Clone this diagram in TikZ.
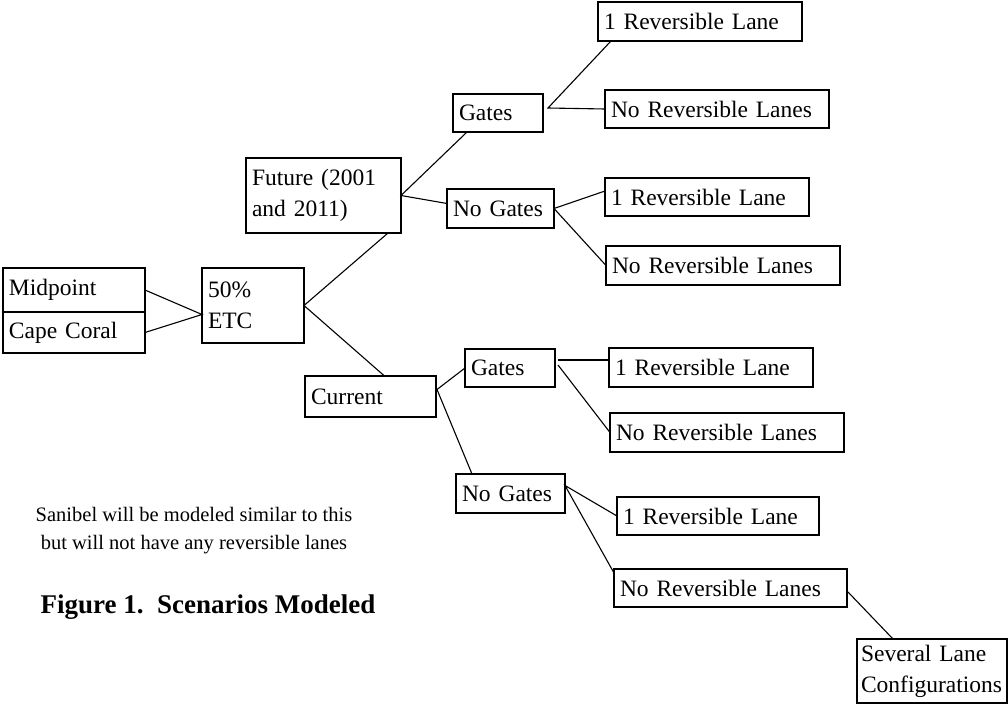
\documentclass[tikz,border=0pt]{standalone}
\usepackage{fontspec}
\setmainfont{Liberation Serif}
\usetikzlibrary{calc,positioning}
\newcommand{\boxfont}{\fontsize{23.5}{31}\selectfont}
\tikzstyle{box}=[draw, anchor=north west, align=left, inner xsep=6pt, inner ysep=0pt, outer sep=0pt, font=\boxfont]
\tikzstyle{gate box}=[box, text width=78pt, minimum height=38pt]
\tikzstyle{nogate box}=[box, text width=95pt, minimum height=39pt]
\tikzstyle{onelane box}=[box, text width=192pt, minimum height=39pt]
\tikzstyle{nolane box}=[box, text width=222pt, minimum height=39pt]

\begin{document}
\begin{tikzpicture}[x=1pt, y=-1pt, line width=1.1pt]
  \useasboundingbox (0,0) rectangle (1008,704);

  % left part
  \node[box, text width=130pt, minimum height=44pt] (mid) at (3,268) {Midpoint};
  \node[box, text width=130pt, minimum height=41pt, below=0pt of mid] (cape) {Cape Coral};
  \node[box, text width=90pt, minimum height=75pt] (etc) at (202,268) {50\%\\ETC};
  \node[box, text width=143pt, minimum height=75pt] (future) at (246,158) {Future (2001\\and 2011)};
  \node[box, text width=119pt, minimum height=41pt] (current) at (305,376) {Current};

  % gates
  \node[gate box] (gatesF) at (453,94) {Gates};
  \node[nogate box] (nogatesF) at (447,189) {No Gates};
  \node[gate box] (gatesC) at (465,349) {Gates};
  \node[nogate box, text width=97pt] (nogatesC) at (456,474) {No Gates};

  % lanes
  \node[onelane box] (oneA) at (598,2) {1 Reversible Lane};
  \node[nolane box, text width=212pt, minimum height=38pt] (noA) at (605,90) {No Reversible Lanes};
  \node[onelane box, minimum height=38pt] (oneB) at (605,178) {1 Reversible Lane};
  \node[nolane box] (noB) at (606,246) {No Reversible Lanes};
  \node[onelane box] (oneC) at (609,348) {1 Reversible Lane};
  \node[nolane box] (noC) at (610,413) {No Reversible Lanes};
  \node[onelane box, text width=190pt, minimum height=38pt] (oneD) at (617,497) {1 Reversible Lane};
  \node[nolane box, text width=221pt, minimum height=38pt] (noD) at (614,569) {No Reversible Lanes};
  \node[box, inner xsep=4pt, text width=142pt, minimum height=64pt] (several) at (857,639) {Several Lane\\Configurations};

  \node[font=\fontsize{20.5}{28}\selectfont, align=center] (note) at (194,531) {Sanibel will be modeled similar to this\\but will not have any reversible lanes};
  \node[font=\fontsize{27}{32}\selectfont\bfseries, anchor=west, inner sep=0pt] (caption) at (40,607) {Figure 1.\ \ Scenarios Modeled};

  % branches
  \coordinate (jE) at ($(etc.west)+(0,9)$);
  \draw (mid.east) -- (jE) -- (cape.east);
  \draw ($(future.south east)+(-13,0)$) -- (etc.east) -- ($(current.north)+(14,0)$);
  \draw ($(gatesF.south west)+(14,0)$) -- (future.east) -- ($(nogatesF.west)+(0,-5)$);
  \coordinate (jC) at ($(current.east)+(1,-7)$);
  \draw (gatesC.west) -- (jC) -- ($(nogatesC.north west)+(16,0)$);

  \coordinate (jGF) at ($(gatesF.east)+(5,-5)$);
  \draw ($(oneA.south west)+(13,0)$) -- (jGF) -- (noA.west);
  \draw ($(oneB.west)+(0,-6)$) -- (nogatesF.east) -- (noB.west);
  \coordinate (jGC) at ($(gatesC.east)+(3,-8)$);
  \draw (jGC) -- (jGC -| oneC.west);
  \draw ($(gatesC.east)+(3,-3)$) -- (noC.west);
  \coordinate (jNC) at ($(nogatesC.east)+(0,-8)$);
  \draw (oneD.west) -- (jNC) -- ($(noD.west)+(0,-15)$);
  \draw ($(noD.east)+(1,4)$) -- ($(several.north west)+(36,0)$);
\end{tikzpicture}
\end{document}
